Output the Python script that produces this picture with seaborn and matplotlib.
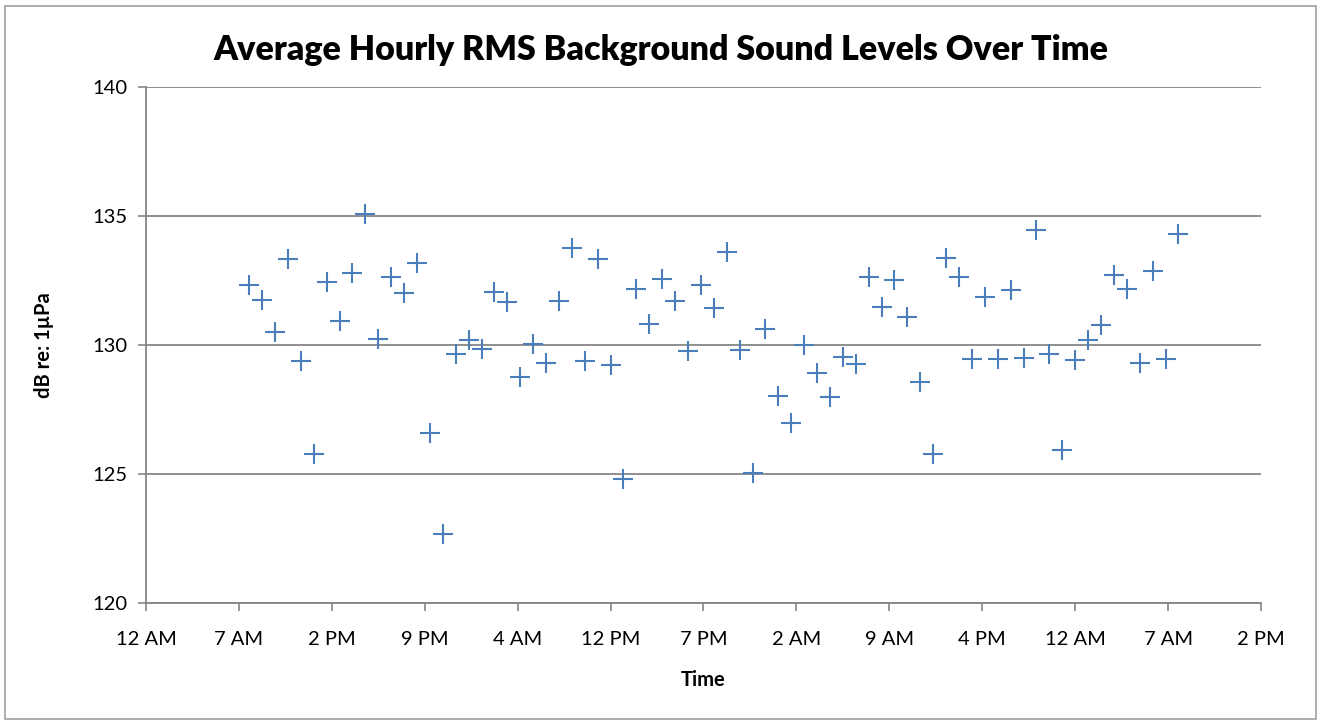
import pandas as pd
import seaborn as sns
import matplotlib.pyplot as plt
import matplotlib.dates as mdates
from matplotlib.patches import Rectangle

# --- data: hourly averages, first reading at 8 AM ---
start_time = "2012-06-01 08:00"
n_hours = 73
sound_db = [
    132.33, 131.74, 130.50, 133.32, 129.37, 125.78, 132.45, 130.93, 132.80, 135.08,
    130.24, 132.62, 132.03, 133.18, 126.58, 122.67, 129.65, 130.19, 129.84, 132.05,
    131.65, 128.77, 130.04, 129.31, 131.69, 133.75, 129.37, 133.32, 129.24, 124.81,
    132.17, 130.83, 132.55, 131.69, 129.77, 132.33, 131.42, 133.62, 129.82, 125.03,
    130.62, 128.01, 126.99, 130.00, 128.91, 128.00, 129.52, 129.26, 132.65, 131.47,
    132.51, 131.09, 128.58, 125.79, 133.39, 132.65, 129.47, 131.86, 129.47, 132.13,
    129.50, 134.47, 129.64, 125.93, 129.41, 130.18, 130.78, 132.71, 132.16, 129.31,
    132.87, 129.45, 134.30,
]

df = pd.DataFrame({
    "Time": pd.date_range(start_time, periods=n_hours, freq="h"),
    "dB": sound_db,
})

# axis span: 0 to 3.6 days, major unit 0.3 day (Excel style)
axis_start = pd.Timestamp("2012-06-01 00:00")
tick_times = [axis_start + pd.Timedelta(hours=7.2 * k) for k in range(13)]

sns.set_theme(style="white")
plt.rcParams["font.family"] = ["Lato", "DejaVu Sans"]
plt.rcParams["text.color"] = "black"
plt.rcParams["axes.labelcolor"] = "black"

grid_col = "#868686"
marker_col = "#4A7EBB"

fig = plt.figure(figsize=(13.2, 7.24), dpi=100)
ax = fig.add_axes([146 / 1320, 1 - 603 / 724, 1115 / 1320, 516 / 724])

sns.scatterplot(
    data=df, x="Time", y="dB", ax=ax,
    marker="+", s=190, linewidth=1.5, color=marker_col, zorder=3,
)

ax.set_ylim(120, 140)
ax.set_yticks([120, 125, 130, 135, 140])
ax.set_xlim(tick_times[0], tick_times[-1])
ax.set_xticks(tick_times)
ax.xaxis.set_major_formatter(mdates.DateFormatter("%-I %p"))

ax.yaxis.grid(True, color=grid_col, linewidth=1.3)
ax.xaxis.grid(False)
for side in ["top", "right"]:
    ax.spines[side].set_visible(False)
for side in ["left", "bottom"]:
    ax.spines[side].set_color(grid_col)
    ax.spines[side].set_linewidth(1.3)

ax.tick_params(axis="both", which="major", length=6, width=1.2, color=grid_col,
               labelsize=14.5, direction="out", labelcolor="black")
ax.tick_params(axis="x", pad=14)
ax.tick_params(axis="y", pad=7)
ax.tick_params(left=True, bottom=True)

ax.set_xlabel("Time", fontsize=14.5, fontweight="bold", labelpad=16)
ax.set_ylabel("dB re: 1\u00b5Pa", fontsize=14.5, fontweight="bold", labelpad=28)
fig.suptitle("Average Hourly RMS Background Sound Levels Over Time",
             x=661 / 1320, y=1 - 50 / 724, va="center",
             fontsize=24.5, fontweight="heavy", color="black")

# chart area border
fig.patches.append(Rectangle((5 / 1320, 5 / 724), 1311 / 1320, 713 / 724,
                             transform=fig.transFigure, fill=False,
                             edgecolor="#A0A0A0", linewidth=1.2))

fig.savefig("out.png", dpi=100)
